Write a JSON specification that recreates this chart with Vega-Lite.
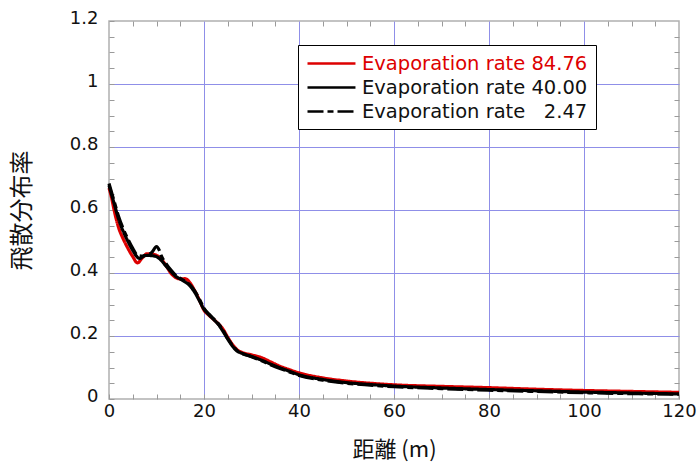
{
  "$schema": "https://vega.github.io/schema/vega-lite/v6.json",
  "width": 570,
  "height": 378,
  "autosize": {"type": "none"},
  "padding": {"left": 109, "top": 21, "right": 19, "bottom": 65},
  "background": "white",
  "config": {
    "view": {"stroke": "#b0b0b0", "strokeWidth": 1.5},
    "axis": {"domain": false}
  },
  "datasets": {
    "curves": [
      {"s": "Evaporation rate 84.76", "x": 0, "y": 0.670},
      {"s": "Evaporation rate 84.76", "x": 0.5, "y": 0.642},
      {"s": "Evaporation rate 84.76", "x": 1, "y": 0.605},
      {"s": "Evaporation rate 84.76", "x": 2, "y": 0.545},
      {"s": "Evaporation rate 84.76", "x": 3, "y": 0.508},
      {"s": "Evaporation rate 84.76", "x": 4, "y": 0.478},
      {"s": "Evaporation rate 84.76", "x": 5, "y": 0.452},
      {"s": "Evaporation rate 84.76", "x": 6, "y": 0.432},
      {"s": "Evaporation rate 84.76", "x": 7, "y": 0.448},
      {"s": "Evaporation rate 84.76", "x": 8, "y": 0.461},
      {"s": "Evaporation rate 84.76", "x": 9, "y": 0.460},
      {"s": "Evaporation rate 84.76", "x": 10, "y": 0.456},
      {"s": "Evaporation rate 84.76", "x": 11, "y": 0.444},
      {"s": "Evaporation rate 84.76", "x": 12, "y": 0.424},
      {"s": "Evaporation rate 84.76", "x": 13, "y": 0.400},
      {"s": "Evaporation rate 84.76", "x": 14, "y": 0.386},
      {"s": "Evaporation rate 84.76", "x": 15, "y": 0.381},
      {"s": "Evaporation rate 84.76", "x": 16, "y": 0.382},
      {"s": "Evaporation rate 84.76", "x": 17, "y": 0.370},
      {"s": "Evaporation rate 84.76", "x": 18, "y": 0.345},
      {"s": "Evaporation rate 84.76", "x": 19, "y": 0.315},
      {"s": "Evaporation rate 84.76", "x": 20, "y": 0.282},
      {"s": "Evaporation rate 84.76", "x": 21, "y": 0.266},
      {"s": "Evaporation rate 84.76", "x": 22, "y": 0.253},
      {"s": "Evaporation rate 84.76", "x": 23, "y": 0.239},
      {"s": "Evaporation rate 84.76", "x": 24, "y": 0.222},
      {"s": "Evaporation rate 84.76", "x": 25, "y": 0.196},
      {"s": "Evaporation rate 84.76", "x": 26, "y": 0.173},
      {"s": "Evaporation rate 84.76", "x": 27, "y": 0.156},
      {"s": "Evaporation rate 84.76", "x": 28, "y": 0.148},
      {"s": "Evaporation rate 84.76", "x": 30, "y": 0.140},
      {"s": "Evaporation rate 84.76", "x": 32, "y": 0.132},
      {"s": "Evaporation rate 84.76", "x": 34, "y": 0.118},
      {"s": "Evaporation rate 84.76", "x": 36, "y": 0.104},
      {"s": "Evaporation rate 84.76", "x": 38, "y": 0.093},
      {"s": "Evaporation rate 84.76", "x": 40, "y": 0.083},
      {"s": "Evaporation rate 84.76", "x": 45, "y": 0.067},
      {"s": "Evaporation rate 84.76", "x": 50, "y": 0.057},
      {"s": "Evaporation rate 84.76", "x": 55, "y": 0.050},
      {"s": "Evaporation rate 84.76", "x": 60, "y": 0.045},
      {"s": "Evaporation rate 84.76", "x": 70, "y": 0.040},
      {"s": "Evaporation rate 84.76", "x": 80, "y": 0.036},
      {"s": "Evaporation rate 84.76", "x": 90, "y": 0.031},
      {"s": "Evaporation rate 84.76", "x": 100, "y": 0.027},
      {"s": "Evaporation rate 84.76", "x": 110, "y": 0.024},
      {"s": "Evaporation rate 84.76", "x": 120, "y": 0.021},

      {"s": "Evaporation rate 40.00", "x": 0, "y": 0.678},
      {"s": "Evaporation rate 40.00", "x": 1, "y": 0.625},
      {"s": "Evaporation rate 40.00", "x": 2, "y": 0.572},
      {"s": "Evaporation rate 40.00", "x": 3, "y": 0.532},
      {"s": "Evaporation rate 40.00", "x": 4, "y": 0.500},
      {"s": "Evaporation rate 40.00", "x": 5, "y": 0.472},
      {"s": "Evaporation rate 40.00", "x": 6, "y": 0.450},
      {"s": "Evaporation rate 40.00", "x": 6.5, "y": 0.446},
      {"s": "Evaporation rate 40.00", "x": 7, "y": 0.451},
      {"s": "Evaporation rate 40.00", "x": 8, "y": 0.456},
      {"s": "Evaporation rate 40.00", "x": 9, "y": 0.455},
      {"s": "Evaporation rate 40.00", "x": 10, "y": 0.452},
      {"s": "Evaporation rate 40.00", "x": 11, "y": 0.440},
      {"s": "Evaporation rate 40.00", "x": 12, "y": 0.422},
      {"s": "Evaporation rate 40.00", "x": 13, "y": 0.405},
      {"s": "Evaporation rate 40.00", "x": 14, "y": 0.390},
      {"s": "Evaporation rate 40.00", "x": 15, "y": 0.381},
      {"s": "Evaporation rate 40.00", "x": 16, "y": 0.372},
      {"s": "Evaporation rate 40.00", "x": 17, "y": 0.360},
      {"s": "Evaporation rate 40.00", "x": 18, "y": 0.340},
      {"s": "Evaporation rate 40.00", "x": 19, "y": 0.313},
      {"s": "Evaporation rate 40.00", "x": 20, "y": 0.285},
      {"s": "Evaporation rate 40.00", "x": 21, "y": 0.268},
      {"s": "Evaporation rate 40.00", "x": 22, "y": 0.253},
      {"s": "Evaporation rate 40.00", "x": 23, "y": 0.237},
      {"s": "Evaporation rate 40.00", "x": 24, "y": 0.215},
      {"s": "Evaporation rate 40.00", "x": 25, "y": 0.190},
      {"s": "Evaporation rate 40.00", "x": 26, "y": 0.168},
      {"s": "Evaporation rate 40.00", "x": 27, "y": 0.152},
      {"s": "Evaporation rate 40.00", "x": 28, "y": 0.145},
      {"s": "Evaporation rate 40.00", "x": 30, "y": 0.135},
      {"s": "Evaporation rate 40.00", "x": 32, "y": 0.124},
      {"s": "Evaporation rate 40.00", "x": 34, "y": 0.111},
      {"s": "Evaporation rate 40.00", "x": 36, "y": 0.099},
      {"s": "Evaporation rate 40.00", "x": 38, "y": 0.088},
      {"s": "Evaporation rate 40.00", "x": 40, "y": 0.077},
      {"s": "Evaporation rate 40.00", "x": 45, "y": 0.062},
      {"s": "Evaporation rate 40.00", "x": 50, "y": 0.052},
      {"s": "Evaporation rate 40.00", "x": 55, "y": 0.046},
      {"s": "Evaporation rate 40.00", "x": 60, "y": 0.041},
      {"s": "Evaporation rate 40.00", "x": 70, "y": 0.035},
      {"s": "Evaporation rate 40.00", "x": 80, "y": 0.030},
      {"s": "Evaporation rate 40.00", "x": 90, "y": 0.026},
      {"s": "Evaporation rate 40.00", "x": 100, "y": 0.022},
      {"s": "Evaporation rate 40.00", "x": 110, "y": 0.019},
      {"s": "Evaporation rate 40.00", "x": 120, "y": 0.016},

      {"s": "Evaporation rate  2.47", "x": 0, "y": 0.684},
      {"s": "Evaporation rate  2.47", "x": 1, "y": 0.632},
      {"s": "Evaporation rate  2.47", "x": 2, "y": 0.580},
      {"s": "Evaporation rate  2.47", "x": 3, "y": 0.540},
      {"s": "Evaporation rate  2.47", "x": 4, "y": 0.507},
      {"s": "Evaporation rate  2.47", "x": 5, "y": 0.478},
      {"s": "Evaporation rate  2.47", "x": 6, "y": 0.456},
      {"s": "Evaporation rate  2.47", "x": 7, "y": 0.454},
      {"s": "Evaporation rate  2.47", "x": 8, "y": 0.458},
      {"s": "Evaporation rate  2.47", "x": 9, "y": 0.465},
      {"s": "Evaporation rate  2.47", "x": 10, "y": 0.484},
      {"s": "Evaporation rate  2.47", "x": 10.6, "y": 0.472},
      {"s": "Evaporation rate  2.47", "x": 11, "y": 0.455},
      {"s": "Evaporation rate  2.47", "x": 12, "y": 0.430},
      {"s": "Evaporation rate  2.47", "x": 13, "y": 0.410},
      {"s": "Evaporation rate  2.47", "x": 14, "y": 0.393},
      {"s": "Evaporation rate  2.47", "x": 15, "y": 0.383},
      {"s": "Evaporation rate  2.47", "x": 16, "y": 0.374},
      {"s": "Evaporation rate  2.47", "x": 17, "y": 0.363},
      {"s": "Evaporation rate  2.47", "x": 18, "y": 0.344},
      {"s": "Evaporation rate  2.47", "x": 19, "y": 0.318},
      {"s": "Evaporation rate  2.47", "x": 20, "y": 0.288},
      {"s": "Evaporation rate  2.47", "x": 21, "y": 0.270},
      {"s": "Evaporation rate  2.47", "x": 22, "y": 0.255},
      {"s": "Evaporation rate  2.47", "x": 23, "y": 0.240},
      {"s": "Evaporation rate  2.47", "x": 24, "y": 0.218},
      {"s": "Evaporation rate  2.47", "x": 25, "y": 0.192},
      {"s": "Evaporation rate  2.47", "x": 26, "y": 0.170},
      {"s": "Evaporation rate  2.47", "x": 27, "y": 0.153},
      {"s": "Evaporation rate  2.47", "x": 28, "y": 0.145},
      {"s": "Evaporation rate  2.47", "x": 30, "y": 0.134},
      {"s": "Evaporation rate  2.47", "x": 32, "y": 0.122},
      {"s": "Evaporation rate  2.47", "x": 34, "y": 0.109},
      {"s": "Evaporation rate  2.47", "x": 36, "y": 0.097},
      {"s": "Evaporation rate  2.47", "x": 38, "y": 0.086},
      {"s": "Evaporation rate  2.47", "x": 40, "y": 0.075},
      {"s": "Evaporation rate  2.47", "x": 45, "y": 0.060},
      {"s": "Evaporation rate  2.47", "x": 50, "y": 0.050},
      {"s": "Evaporation rate  2.47", "x": 55, "y": 0.044},
      {"s": "Evaporation rate  2.47", "x": 60, "y": 0.039},
      {"s": "Evaporation rate  2.47", "x": 70, "y": 0.033},
      {"s": "Evaporation rate  2.47", "x": 80, "y": 0.028},
      {"s": "Evaporation rate  2.47", "x": 90, "y": 0.024},
      {"s": "Evaporation rate  2.47", "x": 100, "y": 0.020},
      {"s": "Evaporation rate  2.47", "x": 110, "y": 0.017},
      {"s": "Evaporation rate  2.47", "x": 120, "y": 0.015}
    ]
  },
  "data": {"name": "curves"},
  "layer": [
    {
      "mark": {"type": "line", "strokeWidth": 3.2, "interpolate": "monotone"},
      "encoding": {
        "x": {
          "field": "x", "type": "quantitative",
          "scale": {"domain": [0, 120], "nice": false, "zero": false},
          "axis": {
            "orient": "bottom",
            "values": [0,5,10,15,20,25,30,35,40,45,50,55,60,65,70,75,80,85,90,95,100,105,110,115,120],
            "labelExpr": "datum.value % 20 === 0 ? format(datum.value, 'd') : ''",
            "labelFont": "DejaVu Sans", "labelFontSize": 18, "labelColor": "#111",
            "labelPadding": 8, "labelBaseline": "top", "labelFlush": false, "labelOverlap": false,
            "tickSize": -5, "tickColor": "#9a9a9a", "tickWidth": 1,
            "grid": true,
            "gridColor": "#8f8fe8", "gridWidth": 1,
            "gridOpacity": {"condition": {"test": "datum.value % 20 === 0 && datum.value > 0 && datum.value < 120", "value": 1}, "value": 0},
            "title": "距離 (m)", "titleFont": "Noto Sans CJK JP", "titleFontSize": 22, "titleFontWeight": "normal",
            "titleColor": "#111", "titlePadding": 19
          }
        },
        "y": {
          "field": "y", "type": "quantitative",
          "scale": {"domain": [0, 1.2], "nice": false},
          "axis": {
            "orient": "left",
            "values": [0,0.05,0.1,0.15,0.2,0.25,0.3,0.35,0.4,0.45,0.5,0.55,0.6,0.65,0.7,0.75,0.8,0.85,0.9,0.95,1,1.05,1.1,1.15,1.2],
            "labelExpr": "abs(datum.value*5 - round(datum.value*5)) < 1e-6 ? format(datum.value, '~g') : ''",
            "labelFont": "DejaVu Sans", "labelFontSize": 18, "labelColor": "#111",
            "labelPadding": 16, "labelOffset": -3, "labelOverlap": false, "labelFlush": false,
            "tickSize": -5, "tickColor": "#9a9a9a", "tickWidth": 1,
            "grid": true,
            "gridColor": "#8f8fe8", "gridWidth": 1,
            "gridOpacity": {"condition": {"test": "abs(datum.value*5 - round(datum.value*5)) < 1e-6 && datum.value > 0.01 && datum.value < 1.19", "value": 1}, "value": 0},
            "title": "飛散分布率", "titleFont": "Noto Sans CJK JP", "titleFontSize": 24, "titleFontWeight": "normal",
            "titleColor": "#111", "titlePadding": 35
          }
        },
        "color": {
          "field": "s", "type": "nominal",
          "scale": {
            "domain": ["Evaporation rate 84.76", "Evaporation rate 40.00", "Evaporation rate  2.47"],
            "range": ["#dd0000", "#000000", "#000000"]
          },
          "legend": {
            "title": null,
            "orient": "none", "legendX": 189, "legendY": 24,
            "direction": "vertical",
            "strokeColor": "#000", "fillColor": "#fff", "padding": 8,
            "symbolType": "M-1,0H4.33", "symbolSize": 324, "symbolStrokeWidth": 2.6,
            "labelFont": "DejaVu Sans", "labelFontSize": 19.5, "labelOffset": 35, "labelLimit": 400,
            "rowPadding": 4,
            "labelExpr": "replace(datum.label, '  ', ' \u2007')",
            "encode": {
              "labels": {"update": {"fill": {"signal": "indexof(datum.label, '84.76') >= 0 ? '#dd0000' : '#111111'"}}}
            }
          }
        },
        "strokeDash": {
          "field": "s", "type": "nominal",
          "scale": {
            "domain": ["Evaporation rate 84.76", "Evaporation rate 40.00", "Evaporation rate  2.47"],
            "range": [[1, 0], [1, 0], [16, 4, 6, 4]]
          },
          "legend": null
        }
      }
    },
    {
      "mark": {"type": "line", "opacity": 0},
      "encoding": {
        "x": {
          "field": "x", "type": "quantitative",
          "axis": {
            "orient": "top", "labels": false, "title": null, "grid": false,
            "values": [5,10,15,25,30,35,45,50,55,65,70,75,85,90,95,105,110,115],
            "tickSize": -5, "tickColor": "#9a9a9a"
          }
        },
        "y": {
          "field": "y", "type": "quantitative",
          "axis": {
            "orient": "right", "labels": false, "title": null, "grid": false,
            "values": [0.05,0.1,0.15,0.25,0.3,0.35,0.45,0.5,0.55,0.65,0.7,0.75,0.85,0.9,0.95,1.05,1.1,1.15],
            "tickSize": -5, "tickColor": "#9a9a9a"
          }
        },
        "detail": {"field": "s"}
      }
    }
  ],
  "resolve": {"axis": {"x": "independent", "y": "independent"}}
}
